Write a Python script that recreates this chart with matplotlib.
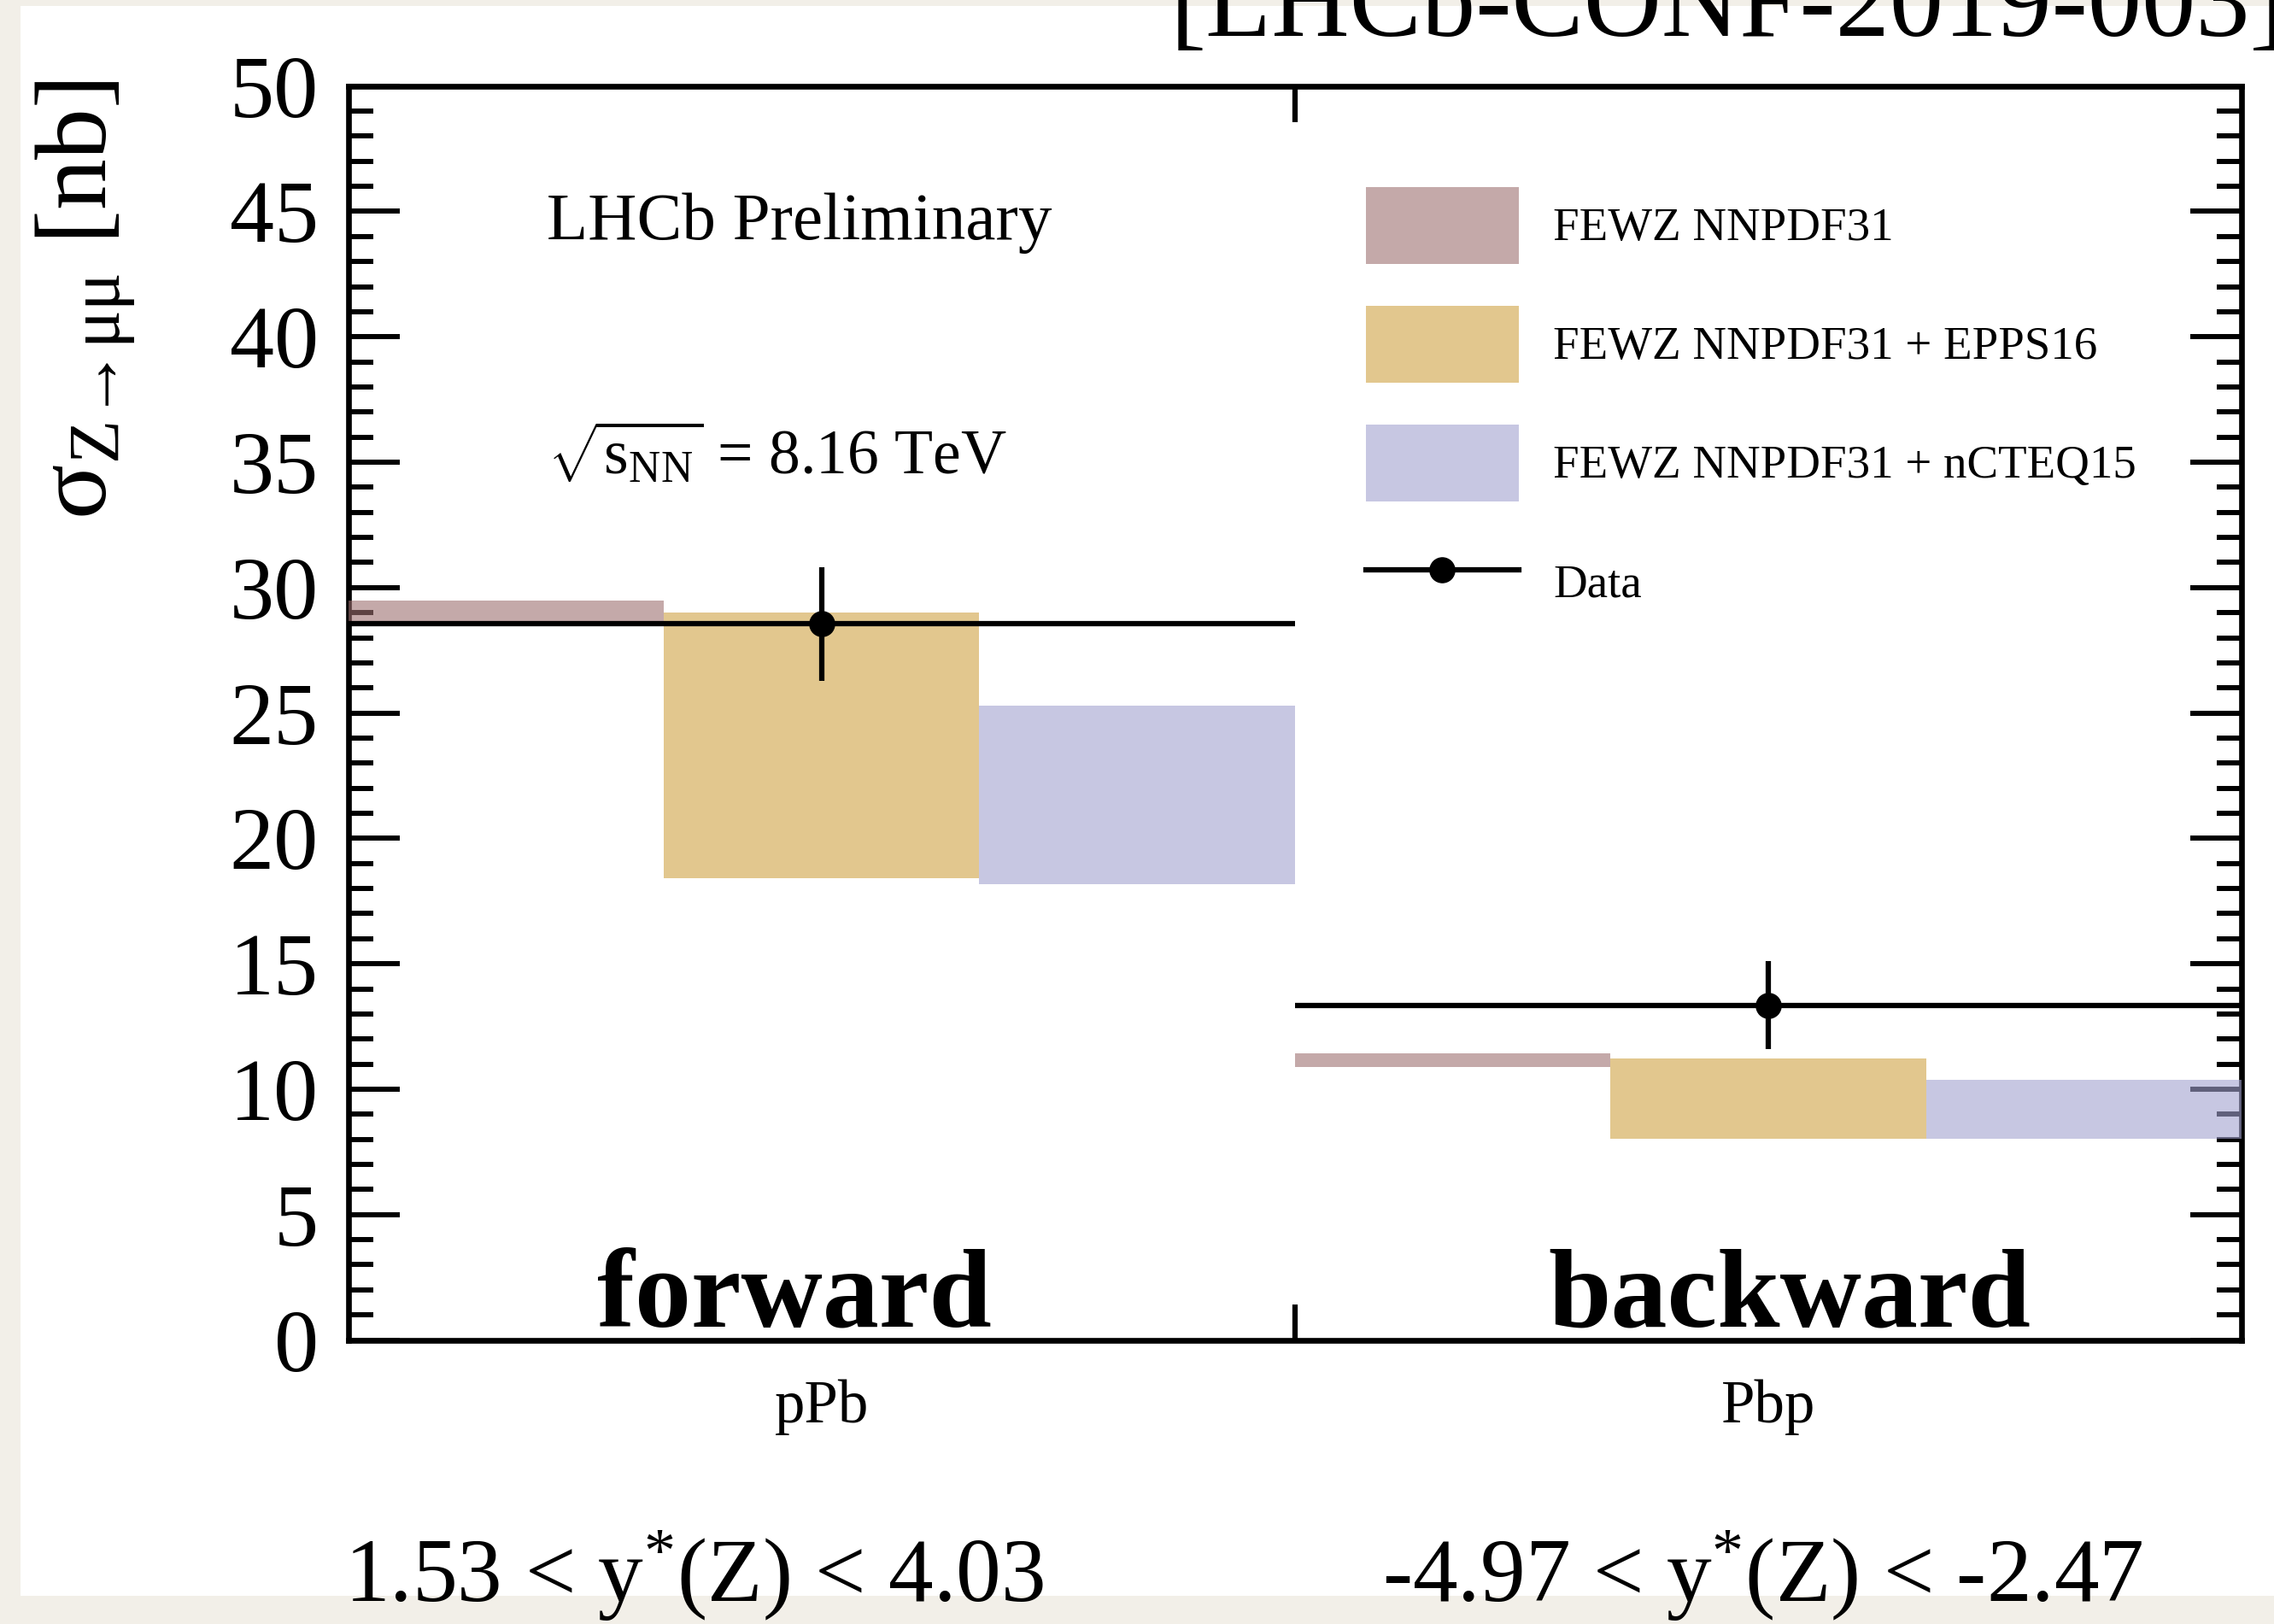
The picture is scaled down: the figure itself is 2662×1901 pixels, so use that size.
import matplotlib
matplotlib.use("Agg")
import matplotlib.pyplot as plt
from matplotlib.patches import Rectangle, Patch
from matplotlib.lines import Line2D
from matplotlib.ticker import FixedLocator, FixedFormatter, MultipleLocator, NullFormatter

plt.rcParams["font.family"] = ["Liberation Serif", "DejaVu Serif"]
plt.rcParams["mathtext.fontset"] = "custom"
plt.rcParams["mathtext.rm"] = "Liberation Serif"
plt.rcParams["mathtext.it"] = "Liberation Serif:italic"
plt.rcParams["mathtext.bf"] = "Liberation Serif:bold"

# ---- data -------------------------------------------------------------
regions = ["pPb", "Pbp"]
region_titles = ["forward", "backward"]
rapidity_ranges = ["1.53 < y$^{*}$(Z) < 4.03", "-4.97 < y$^{*}$(Z) < -2.47"]

data_sigma = [28.55, 13.35]
data_err = [2.26, 1.76]

model_names = ["FEWZ NNPDF31", "FEWZ NNPDF31 + EPPS16", "FEWZ NNPDF31 + nCTEQ15"]
nnpdf_lo = [28.55, 10.88]
nnpdf_hi = [29.48, 11.43]
epps_lo = [18.42, 8.03]
epps_hi = [29.00, 11.22]
ncteq_lo = [18.17, 8.03]
ncteq_hi = [25.29, 10.37]

model_lo = [nnpdf_lo, epps_lo, ncteq_lo]
model_hi = [nnpdf_hi, epps_hi, ncteq_hi]
model_colors = ["#9E7071", "#D0A243", "#A2A2CF"]
band_alpha = 0.6

# ---- figure -----------------------------------------------------------
W, H = 2662, 1901
fig = plt.figure(figsize=(W / 100, H / 100), dpi=100, facecolor="#F2EFE8")
fig.patches.append(Rectangle((24 / W, 1 - 1868 / H), 1 - 24 / W, (1868 - 7) / H,
                             transform=fig.transFigure, facecolor="white",
                             edgecolor="none", zorder=-5))

ax = fig.add_axes([407.5 / W, 1 - 1568.5 / H, (2624 - 407.5) / W, (1568.5 - 100.7) / H])
ax.set_xlim(0, 6)
ax.set_ylim(0, 50)

# theory bands: one bin per model inside each collision configuration
for m in range(3):
    xs = [3 * r + m + 0.5 for r in range(2)]
    heights = [model_hi[m][r] - model_lo[m][r] for r in range(2)]
    ax.bar(xs, heights, bottom=model_lo[m], width=1.0, color=model_colors[m],
           alpha=band_alpha, linewidth=0, zorder=3)

# measurement
xd = [3 * r + 1.5 for r in range(2)]
ax.errorbar(xd, data_sigma, xerr=1.5, yerr=data_err, fmt="o", color="black",
            ms=21, elinewidth=4.5, capsize=0, zorder=5)

# axes styling
for s in ax.spines.values():
    s.set_linewidth(4.8)
ax.yaxis.set_major_locator(MultipleLocator(5))
ax.yaxis.set_minor_locator(MultipleLocator(1))
ax.tick_params(axis="y", which="major", direction="in", length=43, width=4.3,
               left=True, right=True, labelsize=75, pad=25)
ax.tick_params(axis="y", which="minor", direction="in", length=21, width=4.3,
               left=True, right=True)
ax.xaxis.set_major_locator(FixedLocator([3]))
ax.xaxis.set_major_formatter(NullFormatter())
ax.xaxis.set_minor_locator(FixedLocator(xd))
ax.xaxis.set_minor_formatter(FixedFormatter(regions))
ax.tick_params(axis="x", which="major", direction="in", length=30, width=4.5,
               top=True, bottom=True)
ax.tick_params(axis="x", which="minor", length=0, labelsize=51, pad=33)

# region titles inside the frame
title_x = [1.414, 4.566]
for r in range(2):
    ax.text(title_x[r], 0.55, region_titles[r], ha="center", va="baseline",
            fontsize=95, fontweight="bold", zorder=6)

# rapidity ranges below the frame
range_x = [813, 2063]
for r in range(2):
    fig.text(range_x[r] / W, 1 - 1875 / H, rapidity_ranges[r], ha="center",
             va="baseline", fontsize=76, zorder=6)

# labels and annotations
fig.text(100 / W, 1 - 93 / H, r"$\mathrm{σ}_{\mathrm{Z→μμ}}$ [nb]", rotation=90,
         ha="center", va="top", fontsize=86)
fig.text(640 / W, 1 - 280 / H, "LHCb Preliminary", fontsize=57, va="baseline")
fig.text(641 / W, 1 - 555 / H, r"$\sqrt{\mathrm{s}_{\mathrm{NN}}}$ = 8.16 TeV",
         fontsize=53, va="baseline")
fig.text(1370 / W, 1 - 42 / H, "[LHCb-CONF-2019-003]", fontsize=91, va="baseline")

# legend
handles = [Patch(facecolor=c, alpha=band_alpha, edgecolor="none") for c in model_colors]
handles.append(Line2D([], [], color="black", lw=4.5, marker="o", ms=21))
labels = model_names + ["Data"]
ax.legend(handles, labels, loc="upper left", bbox_to_anchor=(1599 / W, 1 - 219 / H),
          bbox_transform=fig.transFigure, frameon=False, fontsize=39.5,
          handlelength=3.26, handleheight=2.15, labelspacing=0.89,
          handletextpad=0.73, borderpad=0, borderaxespad=0)

fig.savefig("out.png", dpi=100, facecolor=fig.get_facecolor())
